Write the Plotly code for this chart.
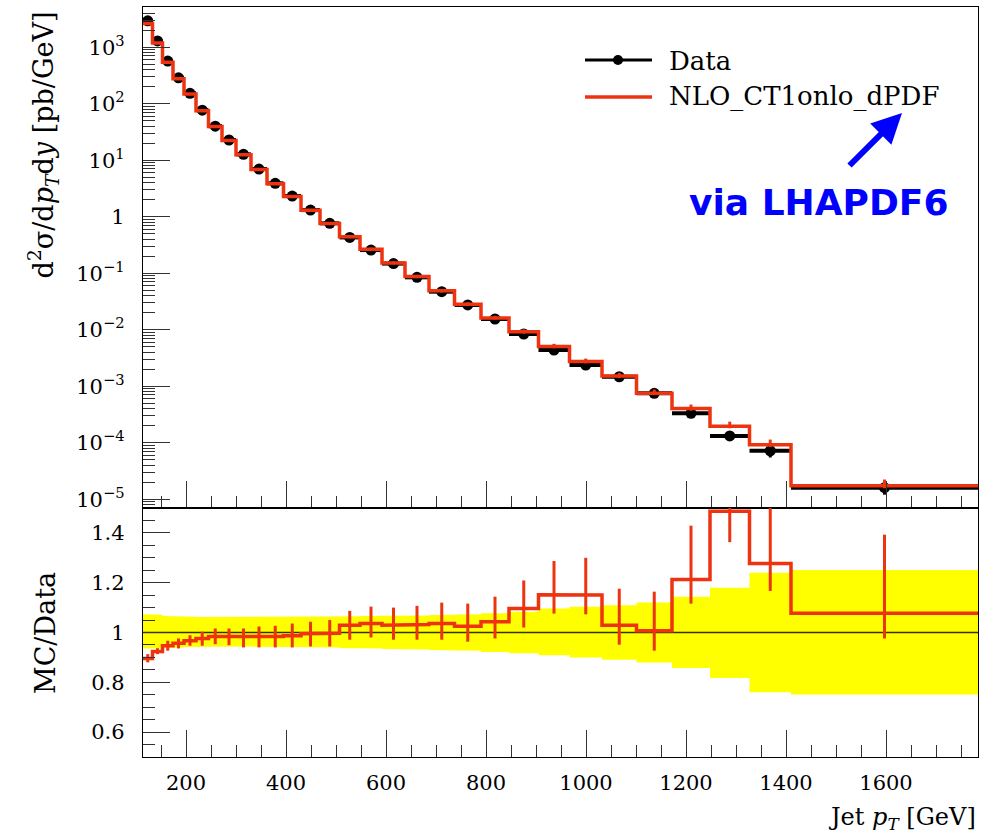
import plotly.graph_objects as go

# ---------------- data ----------------
bin_edges = [114, 133, 153, 174, 196, 220, 245, 272, 300, 330, 362, 395, 430, 468, 507,
             548, 592, 638, 686, 737, 790, 846, 905, 967, 1032, 1101, 1172, 1248, 1327,
             1410, 1784]

data_xsec = [2940, 1290, 570, 288, 153, 77, 40, 22.8, 12.7, 6.98, 3.9, 2.32, 1.31, 0.764,
             0.43, 0.257, 0.148, 0.0845, 0.0471, 0.0274, 0.01546, 0.00839, 0.00437,
             0.00237, 0.00147, 0.000748, 0.000331, 0.000132, 7.2e-5, 1.6e-5]

# relative data uncertainty (yellow band)
data_err_up = [0.073, 0.071, 0.066, 0.064, 0.063, 0.062, 0.062, 0.062, 0.062, 0.062,
               0.062, 0.063, 0.063, 0.064, 0.065, 0.066, 0.067, 0.068, 0.070, 0.073,
               0.077, 0.083, 0.096, 0.103, 0.109, 0.120, 0.144, 0.180, 0.240, 0.251]
data_err_down = [0.064, 0.064, 0.062, 0.060, 0.058, 0.057, 0.056, 0.056, 0.056, 0.057,
                 0.058, 0.058, 0.059, 0.060, 0.062, 0.064, 0.066, 0.068, 0.070, 0.073,
                 0.078, 0.083, 0.091, 0.100, 0.109, 0.120, 0.143, 0.183, 0.240, 0.249]

# MC / Data ratio and its uncertainty
mc_over_data = [0.896, 0.924, 0.947, 0.957, 0.967, 0.976, 0.984, 0.984, 0.981, 0.981,
                0.984, 0.987, 0.995, 0.997, 1.029, 1.036, 1.029, 1.032, 1.036, 1.025,
                1.043, 1.096, 1.152, 1.151, 1.029, 1.007, 1.213, 1.487, 1.277, 1.077]
mc_err_up = [0.017, 0.013, 0.020, 0.019, 0.022, 0.027, 0.032, 0.032, 0.035, 0.043,
             0.043, 0.049, 0.048, 0.053, 0.058, 0.068, 0.071, 0.075, 0.084, 0.091,
             0.101, 0.113, 0.135, 0.149, 0.147, 0.157, 0.216, 0.300, 0.300, 0.316]
mc_err_down = [0.016, 0.011, 0.020, 0.021, 0.020, 0.029, 0.031, 0.035, 0.041, 0.041,
               0.044, 0.047, 0.051, 0.053, 0.058, 0.056, 0.058, 0.061, 0.065, 0.062,
               0.067, 0.076, 0.076, 0.078, 0.078, 0.080, 0.097, 0.124, 0.110, 0.101]

x_tick_vals = [200, 400, 600, 800, 1000, 1200, 1400, 1600]
y_log_tick_vals = [1e-5, 1e-4, 1e-3, 1e-2, 1e-1, 1, 10, 100, 1000]
y_log_tick_text = ["10<sup>−5</sup>", "10<sup>−4</sup>", "10<sup>−3</sup>", "10<sup>−2</sup>",
                   "10<sup>−1</sup>", "1", "10<sup>1</sup>", "10<sup>2</sup>", "10<sup>3</sup>"]
ratio_tick_vals = [0.6, 0.8, 1.0, 1.2, 1.4]
ratio_tick_text = ["0.6", "0.8", "1", "1.2", "1.4"]

# ---------------- derived ----------------
centers = [(bin_edges[i] + bin_edges[i + 1]) / 2 for i in range(len(data_xsec))]
half_w = [(bin_edges[i + 1] - bin_edges[i]) / 2 for i in range(len(data_xsec))]
mc_xsec = [d * r for d, r in zip(data_xsec, mc_over_data)]
data_ratio = [d / d for d in data_xsec]


def step(edges, vals):
    xs, ys = [], []
    for i, v in enumerate(vals):
        xs += [edges[i], edges[i + 1]]
        ys += [v, v]
    return xs, ys


RED = "#EE3311"
SERIF = "DejaVu Serif"

fig = go.Figure()

# ---- top panel: data ----
fig.add_trace(go.Scatter(
    x=centers, y=data_xsec, mode="markers",
    marker=dict(color="black", size=11),
    error_x=dict(type="data", array=half_w, arrayminus=half_w, width=0,
                 thickness=4, color="black"),
    error_y=dict(type="data", array=[d * e for d, e in zip(data_xsec, data_err_up)],
                 arrayminus=[d * e for d, e in zip(data_xsec, data_err_down)],
                 width=0, thickness=3, color="black"),
    xaxis="x", yaxis="y", showlegend=False, hoverinfo="skip"))

# ---- top panel: MC ----
sx, sy = step(bin_edges, mc_xsec)
fig.add_trace(go.Scatter(x=sx, y=sy, mode="lines", line=dict(color=RED, width=3.5),
                         xaxis="x", yaxis="y", showlegend=False, hoverinfo="skip"))
fig.add_trace(go.Scatter(
    x=centers, y=mc_xsec, mode="markers", marker=dict(size=0.1, color=RED, opacity=0),
    error_y=dict(type="data", array=[d * e for d, e in zip(data_xsec, mc_err_up)],
                 arrayminus=[d * e for d, e in zip(data_xsec, mc_err_down)],
                 width=0, thickness=3, color=RED),
    xaxis="x", yaxis="y", showlegend=False, hoverinfo="skip"))

# ---- ratio panel: yellow band ----
ux, uy = step(bin_edges, [1 + e for e in data_err_up])
lx, ly = step(bin_edges, [1 - e for e in data_err_down])
fig.add_trace(go.Scatter(x=ux + lx[::-1], y=uy + ly[::-1], mode="lines", fill="toself",
                         fillcolor="#FFFF00", line=dict(width=0, color="#FFFF00"),
                         xaxis="x2", yaxis="y2", showlegend=False, hoverinfo="skip"))
dx, dy = step(bin_edges, data_ratio)
fig.add_trace(go.Scatter(x=dx, y=dy, mode="lines", line=dict(color="#333300", width=1.5),
                         xaxis="x2", yaxis="y2", showlegend=False, hoverinfo="skip"))

# ---- ratio panel: MC/Data ----
rx, ry = step(bin_edges, mc_over_data)
fig.add_trace(go.Scatter(x=rx, y=ry, mode="lines", line=dict(color=RED, width=3.5),
                         xaxis="x2", yaxis="y2", showlegend=False, hoverinfo="skip"))
fig.add_trace(go.Scatter(
    x=centers, y=mc_over_data, mode="markers", marker=dict(size=0.1, color=RED, opacity=0),
    error_y=dict(type="data", array=mc_err_up, arrayminus=mc_err_down,
                 width=0, thickness=3, color=RED),
    xaxis="x2", yaxis="y2", showlegend=False, hoverinfo="skip"))

# ---------------- layout ----------------
L, R, T, B = 143, 13, 7, 78
W, H = 991, 835
PW, PH = W - L - R, H - T - B
split = 249 / PH


def px(xp):
    return (xp - L) / PW


def py(yp):
    return (H - B - yp) / PH


tickfont = dict(family=SERIF, size=21, color="black")
common_x = dict(range=[114, 1784], showgrid=False, zeroline=False, showline=True,
                mirror=True, linecolor="black", linewidth=1.3, ticks="inside",
                ticklen=27, tickwidth=1, tickcolor="#333333",
                tickmode="array", tickvals=x_tick_vals,
                minor=dict(dtick=50, tick0=0, ticks="inside", ticklen=12,
                           tickwidth=1, tickcolor="#333333", showgrid=False))

minor_log = [m * 10.0 ** k for k in range(-6, 4) for m in range(2, 10)]

fig.update_layout(
    width=W, height=H,
    margin=dict(l=L, r=R, t=T, b=B, autoexpand=False),
    paper_bgcolor="white", plot_bgcolor="white",
    showlegend=False,
    xaxis=dict(common_x, domain=[0, 1], anchor="y", showticklabels=False),
    yaxis=dict(type="log", domain=[split, 1], anchor="x",
               range=[-5.156, 3.712], showgrid=False, zeroline=False, showline=True,
               mirror=True, linecolor="black", linewidth=1.3, ticks="inside",
               ticklen=27, tickwidth=1, tickcolor="#333333",
               tickmode="array", tickvals=y_log_tick_vals, ticktext=y_log_tick_text,
               tickfont=tickfont, ticklabelstandoff=13,
               minor=dict(tickmode="array", tickvals=minor_log, ticks="inside",
                          ticklen=12, tickwidth=1, tickcolor="#333333", showgrid=False)),
    xaxis2=dict(common_x, domain=[0, 1], anchor="y2", matches="x",
                showticklabels=True, tickfont=tickfont, ticklabelstandoff=7),
    yaxis2=dict(domain=[0, split], anchor="x2", range=[0.5, 1.5],
                showgrid=False, zeroline=False, showline=True, mirror=True,
                linecolor="black", linewidth=1.3, ticks="inside", ticklen=27,
                tickwidth=1, tickcolor="#333333",
                tickmode="array", tickvals=ratio_tick_vals, ticktext=ratio_tick_text,
                tickfont=tickfont, ticklabelstandoff=13,
                minor=dict(dtick=0.05, tick0=0, ticks="inside", ticklen=12,
                           tickwidth=1, tickcolor="#333333", showgrid=False)),
)

annotations = [
    dict(text="d<sup>2</sup>σ/d<i>p</i><sub><i>T</i></sub>d<i>y</i> [pb/GeV]",
         textangle=-90, x=px(43), y=py(10), xanchor="center", yanchor="top",
         font=dict(family=SERIF, size=27, color="black")),
    dict(text="MC/Data", textangle=-90, x=px(45), y=py(633), xanchor="center",
         yanchor="middle", font=dict(family=SERIF, size=27, color="black")),
    dict(text="Jet <i>p</i><sub><i>T</i></sub> [GeV]", x=1, y=py(818), xanchor="right",
         yanchor="middle", font=dict(family=SERIF, size=24, color="black")),
    dict(text="Data", x=px(667), y=py(61), xanchor="left", yanchor="middle",
         font=dict(family=SERIF, size=26, color="black")),
    dict(text="NLO_CT1onlo_dPDF", x=px(667), y=py(96), xanchor="left", yanchor="middle",
         font=dict(family=SERIF, size=26, color="black")),
    dict(text="", x=px(902), y=py(113), ax=-54, ay=54, showarrow=True,
         arrowhead=2, arrowsize=1.0, arrowwidth=6, arrowcolor="#0000FF"),
    dict(text="<b>via LHAPDF6</b>", x=px(818), y=py(203), xanchor="center",
         yanchor="middle", font=dict(family="DejaVu Sans", size=36, color="#0000FF")),
]
for a in annotations:
    a.setdefault("xref", "paper")
    a.setdefault("yref", "paper")
    a.setdefault("showarrow", False)
fig.update_layout(annotations=annotations)

shapes = [
    dict(type="line", x0=px(585), x1=px(652), y0=py(60), y1=py(60),
         line=dict(color="black", width=3)),
    dict(type="circle", x0=px(613), x1=px(623), y0=py(55), y1=py(65),
         fillcolor="black", line=dict(color="black", width=0)),
    dict(type="line", x0=px(585), x1=px(652), y0=py(97), y1=py(97),
         line=dict(color=RED, width=3.5)),
]
for s in shapes:
    s["xref"] = "paper"
    s["yref"] = "paper"
fig.update_layout(shapes=shapes)

fig.write_html("out.html", config={"displayModeBar": False},
               post_script="document.body.style.margin='0';document.body.style.padding='0';")
